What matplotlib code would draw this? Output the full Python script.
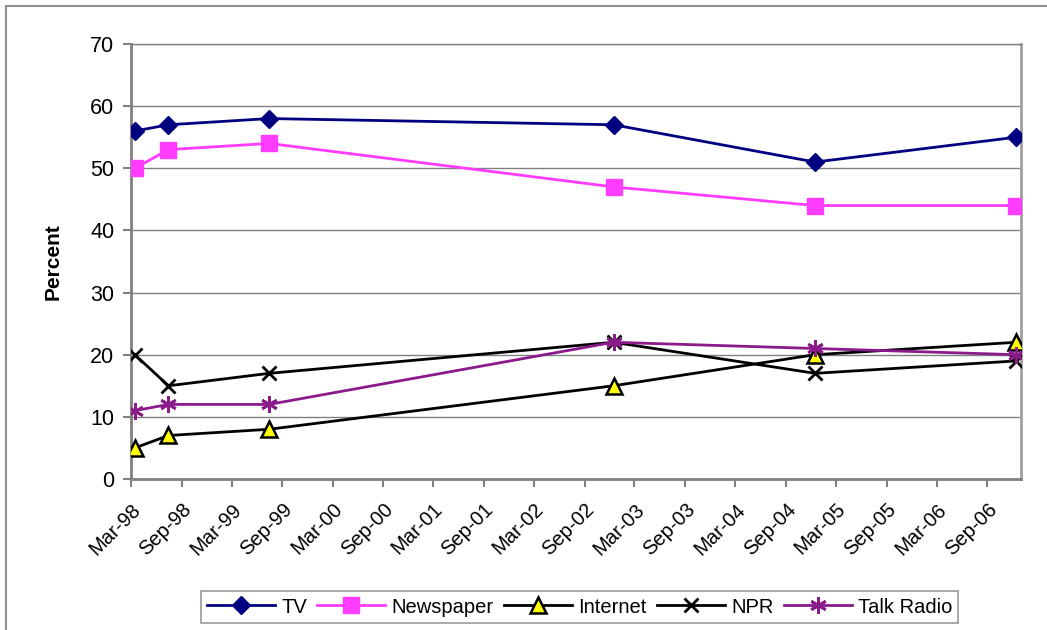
import matplotlib
matplotlib.use("Agg")
import matplotlib.pyplot as plt
import matplotlib.dates as mdates
from matplotlib.lines import Line2D
import datetime as dt

plt.rcParams['font.family'] = ['Liberation Sans', 'DejaVu Sans']

dates = ["1998-03-15", "1998-07-15", "1999-07-15", "2002-12-15", "2004-12-15", "2006-12-15"]
tv = [56, 57, 58, 57, 51, 55]
newspaper = [50, 53, 54, 47, 44, 44]
internet = [5, 7, 8, 15, 20, 22]
npr = [20, 15, 17, 22, 17, 19]
talk_radio = [11, 12, 12, 22, 21, 20]

tick_labels = ["Mar-98", "Sep-98", "Mar-99", "Sep-99", "Mar-00", "Sep-00", "Mar-01", "Sep-01",
               "Mar-02", "Sep-02", "Mar-03", "Sep-03", "Mar-04", "Sep-04", "Mar-05", "Sep-05",
               "Mar-06", "Sep-06"]

x = [dt.datetime.strptime(d, "%Y-%m-%d") for d in dates]
ticks = [dt.datetime.strptime(t, "%b-%y") for t in tick_labels]

fig = plt.figure(figsize=(10.47, 6.3), dpi=100)
ax = fig.add_axes([0.1251, 0.2397, 0.8501, 0.6905])

lw = 2
ax.plot(x, tv, color='#000080', lw=lw, marker='D', ms=9, mec='#000080', mfc='#000080', label='TV', zorder=5)
ax.plot(x, newspaper, color='#ff3cff', lw=lw, marker='s', ms=12, mec='#ff3cff', mfc='#ff3cff', label='Newspaper', zorder=5)
ax.plot(x, internet, color='black', lw=lw, marker='^', ms=11, mec='black', mfc='#ffff00', mew=1.8, label='Internet', zorder=5)
ax.plot(x, npr, color='black', lw=lw, marker='x', ms=10, mew=2, label='NPR', zorder=5)
ax.plot(x, talk_radio, color='#8b1a8b', lw=lw, marker=(6, 2, 0), ms=12, mew=2, mec='#8b1a8b', label='Talk Radio', zorder=5)

ax.set_xlim(dt.datetime(1998, 3, 1), dt.datetime(2007, 1, 1))
ax.set_ylim(0, 70)
ax.set_yticks(range(0, 71, 10))
ax.set_xticks(ticks)
ax.set_xticklabels(tick_labels, rotation=45, ha='right', rotation_mode='anchor', fontsize=14.5)
ax.tick_params(axis='y', labelsize=15.5, length=6, color='#808080', width=1.5, pad=6)
ax.tick_params(axis='x', length=6, color='#808080', width=1.5, pad=9)
ax.grid(axis='y', color='#808080', lw=1)
ax.set_axisbelow(True)
for s in ['left', 'bottom']:
    ax.spines[s].set_color('#808080')
    ax.spines[s].set_linewidth(2)
ax.spines['right'].set_color('#a0a0a0')
ax.spines['right'].set_linewidth(2)
ax.spines['top'].set_color('#808080')
ax.spines['top'].set_linewidth(1)

ax.set_ylabel('Percent', fontsize=15, fontweight='bold', labelpad=20)

leg = fig.legend(loc='center', bbox_to_anchor=(0.5535, 0.0365), ncol=5, fontsize=14.5,
                 frameon=True, fancybox=False, edgecolor='#808080', handlelength=3.4,
                 handletextpad=0.3, columnspacing=0.5, borderpad=0.3)
leg.get_frame().set_linewidth(1.2)

fig.add_artist(Line2D([0.0062, 0.0062], [0, 0.991], transform=fig.transFigure, color='#909090', lw=1.5))
fig.add_artist(Line2D([0.0062, 1.0], [0.991, 0.991], transform=fig.transFigure, color='#909090', lw=1.5))

fig.savefig('out.png', dpi=100, facecolor='white')
